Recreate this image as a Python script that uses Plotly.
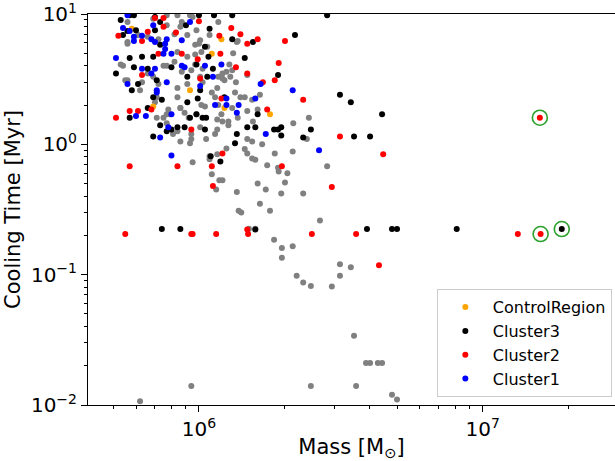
import numpy as np
import plotly.graph_objects as go

# Mass in units of 1e6 Msun, cooling time in Myr
gray_mass = [1.21, 1.61, 1.72, 1.36, 1.91, 2.01, 1.95, 2.33, 1.64, 1.38, 1.41, 1.78, 2.67, 1.50, 1.84,
             1.96, 1.96, 2.14, 2.21, 2.33, 2.48, 2.94, 3.14, 3.14, 3.43, 3.52, 3.88, 4.01, 4.27, 4.42,
             2.48, 3.58, 4.79, 4.99, 0.94, 0.62, 1.11, 1.18, 1.15, 1.58,
             2.44, 2.83, 2.15, 1.67, 1.48, 1.54, 1.45, 1.48, 1.25, 1.54, 1.58, 1.85, 1.74, 1.90,
             1.40, 1.54, 1.64, 1.31, 1.48, 1.20, 1.37, 1.61, 1.21, 1.27, 1.27,
             0.70, 0.71, 0.75, 0.78, 0.79, 0.84, 0.86, 0.89, 0.92, 1.02, 1.05, 1.11, 1.14, 1.17, 1.16,
             0.84, 0.94, 0.94, 1.06, 1.14, 0.86, 0.95, 1.09, 1.16,
             0.56, 0.61, 0.66, 0.72, 0.69, 0.77, 0.82, 0.86, 0.87, 0.95, 0.91, 0.98, 1.17, 1.01, 0.97,
             0.84, 1.02, 0.97, 0.91, 0.54, 0.66, 0.75, 0.77, 0.82, 0.97, 0.87, 0.94, 1.03, 1.01, 1.17,
             0.55, 0.63, 0.69, 0.72, 0.91, 0.84, 1.03, 1.16, 1.37, 1.32, 1.28, 1.21, 1.25, 1.31, 1.21,
             1.23, 1.29, 1.35, 1.48, 0.84, 0.93, 0.77, 1.34, 1.45, 1.55, 1.09, 1.00, 1.07, 1.36, 0.56,
             0.56, 0.53, 0.56, 0.62, 0.98, 0.71, 0.77, 0.86, 0.81, 0.77, 1.01, 1.16, 1.09, 0.93, 2.05,
             2.40, 2.14]
gray_time = [0.53, 0.50, 0.45, 0.43, 0.62, 0.51, 0.42, 0.42, 0.35, 0.31, 0.30, 0.31, 0.26, 0.225, 0.185,
             0.16, 0.135, 0.165, 0.098, 0.087, 0.082, 0.081, 0.098, 0.12, 0.114, 0.034, 0.021, 0.021, 0.021, 0.021,
             0.014, 0.014, 0.012, 0.011, 0.014, 0.0107, 0.59, 0.53, 0.45, 0.225,
             1.6, 0.68, 1.45, 1.0, 1.1, 1.05, 0.92, 0.85, 0.93, 0.78, 0.76, 0.85, 0.69, 0.66,
             2.3, 2.2, 2.4, 1.9, 1.8, 1.7, 1.6, 1.85, 1.5, 1.5, 1.4,
             2.1, 1.6, 1.6, 1.85, 1.7, 2.3, 1.9, 1.75, 1.6, 2.0, 1.95, 2.5, 2.3, 2.0, 1.55,
             1.26, 1.2, 1.1, 1.1, 1.2, 1.05, 0.73, 0.77, 0.84,
             6.1, 6.9, 6.7, 6.4, 9.2, 8.2, 7.0, 8.0, 8.7, 9.5, 6.9, 7.5, 8.7, 6.3, 5.8,
             5.1, 5.1, 4.9, 4.7, 4.0, 3.5, 4.0, 4.0, 4.3, 4.1, 3.6, 3.7, 3.8, 3.3, 3.3,
             3.1, 3.0, 3.3, 2.9, 2.9, 2.7, 3.0, 2.7, 6.2, 5.0, 4.1, 3.5, 3.6, 3.7, 3.2,
             3.1, 3.3, 3.0, 3.4, 9.8, 9.8, 9.8, 2.5, 2.3, 1.5, 6.9, 5.9, 5.6, 6.1, 8.7,
             5.9, 4.1, 3.1, 2.6, 1.7, 2.3, 1.7, 1.9, 1.2, 1.45, 1.35, 1.3, 0.81, 1.02, 0.6,
             1.1, 0.88]

control_mass = [0.58, 0.69, 1.11, 0.93, 1.23, 1.78, 1.20]
control_time = [7.7, 1.95, 4.95, 2.6, 1.9, 1.7, 6.4]

cluster3_mass = [0.53, 0.54, 0.56, 0.57, 0.59, 0.60, 0.51, 0.57, 0.59, 0.58, 0.61, 0.57, 0.69, 0.74, 0.80,
                 0.89, 0.99, 1.01, 1.03, 1.07, 1.19, 1.34, 1.48, 1.58, 1.31, 1.45, 1.09, 1.00, 1.13, 1.31,
                 2.83, 1.55, 2.18, 1.90, 2.33, 1.90, 1.95, 1.95, 1.84, 1.61, 1.36, 2.48, 3.14, 3.43, 4.42,
                 3.52, 4.01, 3.91, 4.79, 4.99, 8.1, 19.0, 0.74, 0.86, 1.58, 0.69, 0.66, 0.91, 0.93, 0.98,
                 1.06, 0.73, 0.77, 0.84, 1.05, 1.10, 1.23, 0.70, 0.73, 0.70, 0.90, 0.73, 1.05, 1.08, 0.63,
                 0.69, 0.66, 0.80, 0.98, 0.91, 1.12, 0.71]
cluster3_time = [9.0, 6.9, 7.4, 9.8, 9.8, 7.5, 3.5, 4.6, 3.9, 2.6, 2.9, 1.6, 1.15, 2.2, 1.3,
                 1.35, 2.25, 2.6, 1.6, 3.3, 0.74, 1.02, 1.35, 1.35, 6.4, 4.6, 7.7, 9.8, 9.8, 9.8,
                 9.8, 6.1, 6.9, 3.4, 1.13, 1.3, 1.17, 1.35, 1.3, 1.7, 1.2, 1.3, 2.4, 2.1, 1.7,
                 1.15, 1.15, 0.224, 0.224, 0.224, 0.224, 0.224, 0.224, 0.224, 0.222, 2.3, 1.9, 2.1, 1.6, 1.7,
                 1.6, 1.4, 1.26, 1.35, 1.3, 0.81, 2.3, 7.5, 8.7, 9.5, 8.2, 5.8, 5.6, 4.7, 4.7,
                 4.7, 3.8, 3.9, 4.1, 3.3, 3.8, 3.1]

cluster2_mass = [0.52, 0.66, 0.70, 0.75, 0.51, 0.57, 0.57, 0.63, 0.68, 0.61, 0.72, 0.83, 0.84, 0.87, 0.94,
                 1.00, 0.99, 1.11, 1.12, 1.18, 1.19, 1.20, 1.21, 1.30, 1.35, 1.40, 1.48, 1.48, 1.61, 1.68,
                 1.74, 1.85, 1.91, 1.96, 2.01, 2.33, 0.75, 3.14, 4.46, 2.94, 15.9, 2.50, 3.58, 13.3, 16.0,
                 4.31, 0.55, 0.94, 0.95, 1.15, 1.49, 1.48, 1.01, 0.63]
cluster2_time = [6.8, 7.3, 9.3, 9.3, 1.6, 0.68, 1.8, 3.4, 1.85, 1.8, 4.95, 7.2, 0.68, 4.95, 1.3,
                 8.8, 4.5, 0.68, 0.48, 6.8, 4.95, 2.25, 0.85, 7.8, 3.9, 7.0, 5.9, 3.5, 6.4, 3.0,
                 1.85, 3.1, 4.2, 0.68, 6.2, 2.2, 8.0, 1.15, 0.84, 0.47, 1.6, 0.205, 0.205, 0.205, 0.205,
                 0.118, 0.205, 0.205, 0.205, 0.205, 0.205, 0.222, 3.2, 6.2]

cluster1_mass = [0.54, 0.57, 0.59, 0.59, 0.63, 0.68, 0.69, 0.70, 0.77, 0.76, 0.93, 0.87, 0.76, 0.75, 0.80,
                 0.51, 0.63, 0.68, 0.70, 0.87, 0.89, 1.05, 1.12, 0.56, 0.77, 1.01, 0.71, 0.56, 0.71, 0.65,
                 0.60, 0.80, 0.78, 0.73, 0.80, 1.14, 1.20, 1.25, 1.58, 1.25, 1.38, 1.36, 1.72, 1.65, 2.14,
                 2.65]
cluster1_time = [7.8, 7.4, 6.2, 6.7, 6.8, 6.4, 8.2, 6.1, 6.4, 5.9, 8.7, 6.3, 5.4, 4.95, 4.95,
                 4.6, 3.8, 3.5, 3.8, 4.0, 3.9, 4.0, 3.3, 2.9, 3.0, 2.8, 2.6, 9.8, 2.5, 1.65,
                 1.65, 1.7, 1.35, 1.13, 0.82, 2.0, 4.1, 2.25, 2.25, 2.0, 2.0, 1.75, 1.2, 2.9, 2.6,
                 0.9]

highlight_mass = [15.9, 16.0, 19.0]
highlight_time = [1.6, 0.205, 0.224]

FONT = "DejaVu Sans"

def xs(v):
    return np.array(v) * 1e6

fig = go.Figure()
fig.add_trace(go.Scatter(x=xs(gray_mass), y=gray_time, mode="markers",
                         marker=dict(color="#808080", size=6), showlegend=False))
groups = [("ControlRegion", control_mass, control_time, "#ffa500"),
          ("Cluster3", cluster3_mass, cluster3_time, "#000000"),
          ("Cluster2", cluster2_mass, cluster2_time, "#ff0000"),
          ("Cluster1", cluster1_mass, cluster1_time, "#0000ff")]
for name, m, t, c in groups:
    fig.add_trace(go.Scatter(x=xs(m), y=t, mode="markers", name=name,
                             marker=dict(color=c, size=6)))
fig.add_trace(go.Scatter(x=xs(highlight_mass), y=highlight_time, mode="markers", showlegend=False,
                         marker=dict(symbol="circle-open", size=15, color="#2ca02c",
                                     line=dict(width=1.6, color="#2ca02c"))))

y_major = [0.01, 0.1, 1, 10]
y_text = ["10<sup>\u22122</sup>", "10<sup>\u22121</sup>", "10<sup>0</sup>", "10<sup>1</sup>"]
y_minor = [k * 10.0 ** e for e in (-2, -1, 0) for k in range(2, 10)]
x_major = [1e6, 1e7]
x_text = ["10<sup>6</sup>", "10<sup>7</sup>"]
x_minor = [k * 1e5 for k in range(5, 10)] + [k * 1e6 for k in range(2, 10)] + [2e7]

fig.update_layout(
    width=615, height=461,
    margin=dict(l=88, r=0, t=12, b=56),
    plot_bgcolor="white", paper_bgcolor="white",
    font=dict(family=FONT, color="black"),
    xaxis=dict(type="log", range=[5.609, 7.4663], showgrid=False, zeroline=False,
               showline=True, linecolor="black", linewidth=1, mirror=True,
               ticks="outside", ticklen=6, tickcolor="black",
               tickmode="array", tickvals=x_major, ticktext=x_text,
               tickfont=dict(size=20, family=FONT), ticklabeloverflow="allow",
               minor=dict(tickmode="array", tickvals=x_minor, ticks="outside", ticklen=3,
                          tickcolor="black", showgrid=False),
               title=dict(text="Mass [M<sub>\u2299</sub>]", font=dict(size=21, family=FONT), standoff=2)),
    yaxis=dict(type="log", range=[-2, 1], showgrid=False, zeroline=False,
               showline=True, linecolor="black", linewidth=1, mirror=False,
               ticks="outside", ticklen=6, tickcolor="black",
               tickmode="array", tickvals=y_major, ticktext=y_text,
               tickfont=dict(size=20, family=FONT), ticklabeloverflow="allow",
               minor=dict(tickmode="array", tickvals=y_minor, ticks="outside", ticklen=3,
                          tickcolor="black", showgrid=False),
               title=dict(text="Cooling Time [Myr]", font=dict(size=21, family=FONT), standoff=4)),
    legend=dict(x=0.994, y=0.02, xanchor="right", yanchor="bottom",
                bgcolor="white", bordercolor="#cccccc", borderwidth=1,
                font=dict(size=16, family=FONT), itemwidth=45,
                tracegroupgap=0),
)

fig.write_html("out.html")
